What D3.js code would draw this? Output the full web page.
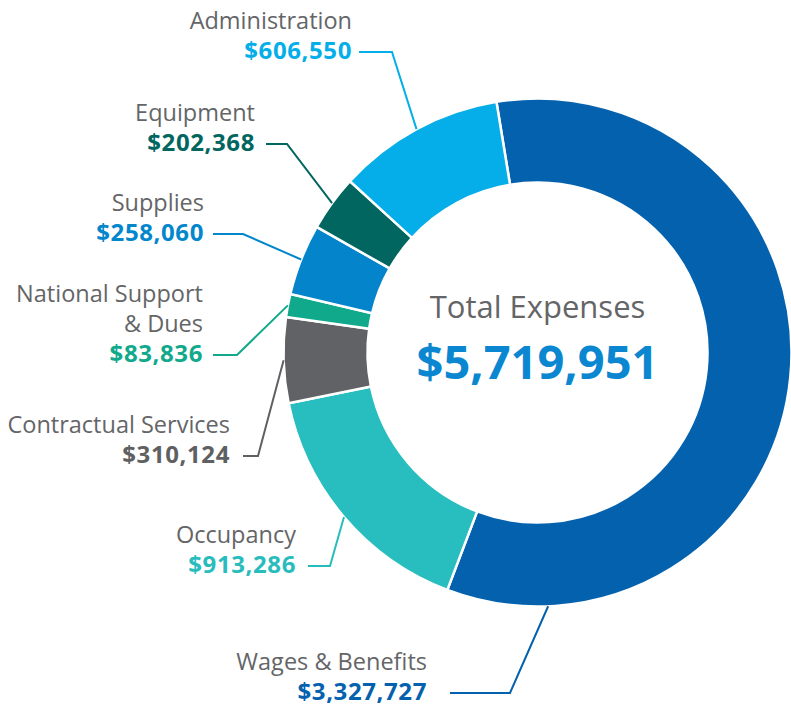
<!DOCTYPE html>
<html>
<head>
<meta charset="utf-8">
<script src="https://cdn.jsdelivr.net/npm/d3@7"></script>
<style>
  body { margin: 0; background: #fff; }
  svg { display: block; font-family: "Open Sans", sans-serif; }
</style>
</head>
<body>
<svg width="791" height="707"></svg>
<script>
// data
var categories = ["Wages & Benefits", "Occupancy", "Contractual Services", "National Support & Dues", "Supplies", "Equipment", "Administration"]
var nameLines = [["Wages & Benefits"], ["Occupancy"], ["Contractual Services"], ["National Support", "& Dues"], ["Supplies"], ["Equipment"], ["Administration"]]
var values = [3327727, 913286, 310124, 83836, 258060, 202368, 606550]
var totalValue = 5719951 // as printed on the chart
var totalLabel = "Total Expenses"
var sliceColors = ["#0461ae", "#28bdbe", "#616265", "#10a98c", "#0485cb", "#00665f", "#06aee9"]
var valueColors = ["#0461ae", "#28bcbd", "#5f6062", "#10a98b", "#0386cc", "#00665f", "#05aee8"]

// label layout (right edge of text, value baseline, leader start/elbow x, optional leader angle in deg)
var labelLayout = [
  {x: 427, y: 700, start: 450, elbow: 510, angle: 177.6},
  {x: 296, y: 573, start: 308, elbow: 330},
  {x: 230, y: 463, start: 243, elbow: 258},
  {x: 203, y: 362, start: 213, elbow: 237},
  {x: 204, y: 241, start: 213, elbow: 243},
  {x: 255, y: 151, start: 266, elbow: 287},
  {x: 352, y: 59, start: 359, elbow: 392}
]

var svg = d3.select("svg")
var cx = 537.5, cy = 352.5
var outerR = 254, innerR = 170
var fmt = d3.format("$,")
var rad = Math.PI / 180

var data = categories.map((c, i) => ({name: c, lines: nameLines[i], value: values[i], color: sliceColors[i], vcolor: valueColors[i], pos: labelLayout[i]}))

var pie = d3.pie()
  .sort(null)
  .value(d => d.value)
  .startAngle(-9.3 * rad)
  .endAngle(350.7 * rad)

var arc = d3.arc()
  .innerRadius(innerR)
  .outerRadius(outerR)

var arcs = pie(data)

var g = svg.append("g")
  .attr("transform", `translate(${cx},${cy})`)

g.selectAll("path.slice")
  .data(arcs)
  .enter()
  .append("path")
    .attr("class", "slice")
    .attr("d", arc)
    .attr("fill", d => d.data.color)
    .attr("stroke", "#fff")
    .attr("stroke-width", 2.5)

// leader lines
svg.append("g")
  .attr("fill", "none")
  .attr("stroke-width", 2)
  .selectAll("polyline")
  .data(arcs)
  .enter()
  .append("polyline")
    .attr("stroke", d => d.data.vcolor)
    .attr("points", d => {
      var p = d.data.pos
      var a = p.angle != null ? p.angle * rad : (d.startAngle + d.endAngle) / 2
      var ex = cx + outerR * Math.sin(a)
      var ey = cy - outerR * Math.cos(a)
      var ly = p.y - 7
      return [[p.start, ly], [p.elbow, ly], [ex, ey]].map(q => q.join(",")).join(" ")
    })

// labels
var labels = svg.append("g")
  .selectAll("g")
  .data(arcs)
  .enter()
  .append("g")
    .attr("text-anchor", "end")

labels.append("text")
  .attr("x", d => d.data.pos.x)
  .attr("y", d => d.data.pos.y)
  .attr("fill", d => d.data.vcolor)
  .attr("font-size", 24)
  .attr("font-weight", 700)
  .attr("letter-spacing", 0.6)
  .text(d => fmt(d.data.value))

labels.each(function(d) {
  var n = d.data.lines.length
  d3.select(this).selectAll("text.name")
    .data(d.data.lines)
    .enter()
    .append("text")
      .attr("class", "name")
      .attr("x", d.data.pos.x)
      .attr("y", (t, j) => d.data.pos.y - 30 * (n - j))
      .attr("fill", "#646567")
      .attr("font-size", 23.5)
      .text(t => t)
})

// center
svg.append("text")
  .attr("x", cx)
  .attr("y", 318)
  .attr("text-anchor", "middle")
  .attr("fill", "#646567")
  .attr("font-size", 31)
  .text(totalLabel)

svg.append("text")
  .attr("x", cx)
  .attr("y", 379)
  .attr("text-anchor", "middle")
  .attr("fill", "#0a87d0")
  .attr("font-size", 47)
  .attr("font-weight", 700)
  .text(fmt(totalValue))
</script>
</body>
</html>
